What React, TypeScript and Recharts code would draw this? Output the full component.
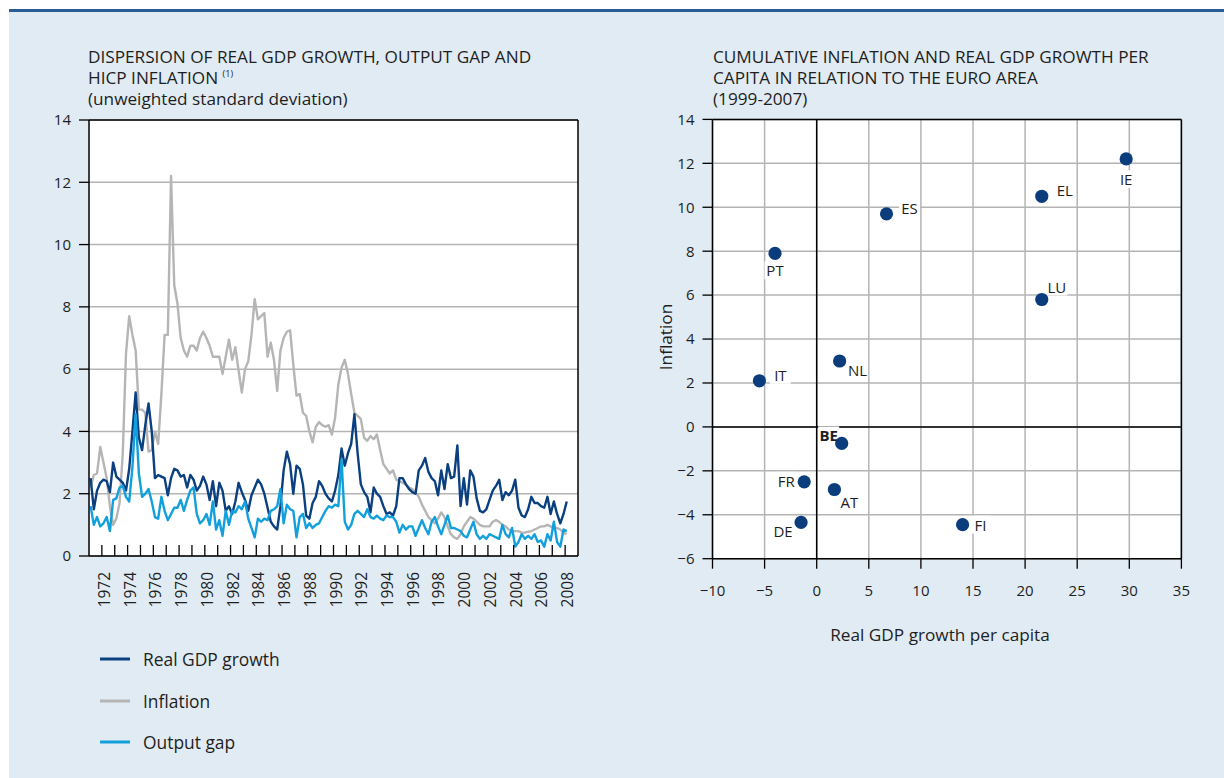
import React from 'react';
import {
  LineChart, Line, XAxis, YAxis, CartesianGrid, ReferenceLine,
  ScatterChart, Scatter,
} from 'recharts';

const FONT = '"Open Sans", "Noto Sans", sans-serif';
const TEXT = '#1e1e1e';
const GDP_COLOR = '#0a3f80';
const INFL_COLOR = '#b5b5b5';
const GAP_COLOR = '#12a0dc';
const DOT_COLOR = '#0b3d7d';
const GRID = '#b4b4b4';

// ---------- Left panel: quarterly dispersion series, 1971Q1 onwards ----------
const firstYear = 1971;

const gdpGrowth = [
  2.5, 1.5, 2.1, 2.35, 2.45, 2.4, 2.05, 3.0, 2.55, 2.45,
  2.35, 2.1, 2.8, 4.0, 5.25, 3.8, 3.4, 4.2, 4.9, 4.0,
  2.5, 2.6, 2.55, 2.5, 1.95, 2.5, 2.8, 2.75, 2.55, 2.6,
  2.2, 2.6, 2.45, 2.1, 2.25, 2.55, 2.3, 1.8, 2.4, 1.6,
  2.35, 2.1, 1.45, 1.6, 1.35, 1.75, 2.35, 2.05, 1.8, 1.45,
  1.95, 2.2, 2.45, 2.3, 2.0, 1.55, 1.1, 0.95, 0.85, 1.6,
  2.75, 3.35, 2.95, 2.0, 2.9, 2.8, 2.3, 1.3, 1.2, 1.7,
  1.9, 2.4, 2.25, 2.0, 1.85, 1.75, 2.1, 2.6, 3.45, 2.9,
  3.3, 3.6, 4.55, 3.3, 2.3, 2.05, 1.9, 1.4, 2.2, 2.0,
  1.9, 1.6, 1.35, 1.4, 1.3, 1.6, 2.5, 2.5, 2.3, 2.15,
  2.05, 2.0, 2.75, 2.9, 3.15, 2.7, 2.5, 2.4, 1.95, 2.75,
  2.15, 2.95, 2.5, 2.55, 3.55, 1.6, 2.5, 1.65, 2.75, 2.55,
  1.85, 1.45, 1.4, 1.5, 1.8, 2.1, 2.25, 2.45, 1.8, 2.05,
  1.95, 2.1, 2.45, 1.55, 1.3, 1.25, 1.5, 1.9, 1.7, 1.7,
  1.6, 1.55, 1.9, 1.35, 1.75, 1.35, 1.05, 1.35, 1.75,
];

const inflation = [
  2.2, 2.6, 2.65, 3.5, 3.0, 2.5, 1.6, 1.0, 1.2, 1.7,
  3.3, 6.5, 7.7, 7.1, 6.6, 4.7, 4.7, 4.6, 3.35, 3.4,
  4.0, 3.6, 5.2, 7.1, 7.1, 12.2, 8.7, 8.1, 7.0, 6.6,
  6.4, 6.75, 6.75, 6.6, 7.0, 7.2, 7.0, 6.75, 6.4, 6.4,
  6.4, 5.85, 6.4, 6.95, 6.3, 6.7, 5.95, 5.25, 6.0, 6.25,
  7.1, 8.25, 7.6, 7.7, 7.8, 6.4, 6.85, 6.3, 5.3, 6.6,
  7.0, 7.2, 7.25, 6.15, 5.15, 5.2, 4.6, 4.5, 4.0, 3.65,
  4.15, 4.3, 4.2, 4.15, 4.2, 3.9, 4.45, 5.5, 6.05, 6.3,
  5.85, 5.2, 4.6, 4.5, 4.4, 3.8, 3.7, 3.85, 3.75, 3.9,
  3.4, 2.95, 2.8, 2.65, 2.75, 2.45, 2.4, 2.35, 2.3, 2.2,
  2.15, 2.05, 1.9, 1.65, 1.45, 1.25, 1.15, 1.05, 1.2, 1.4,
  1.25, 0.95, 0.7, 0.6, 0.55, 0.7, 0.95, 1.1, 1.25, 1.2,
  1.1, 1.0, 0.95, 0.95, 0.95, 1.1, 1.15, 1.1, 1.0, 0.95,
  0.85, 0.8, 0.8, 0.8, 0.75, 0.75, 0.78, 0.8, 0.85, 0.9,
  0.95, 0.95, 1.0, 0.95, 0.9, 0.9, 0.85, 0.75, 0.7,
];

const outputGap = [
  1.6, 1.0, 1.25, 0.95, 1.05, 1.25, 0.8, 1.8, 1.85, 2.2,
  2.25, 1.9, 1.75, 2.85, 4.55, 2.65, 1.9, 2.0, 2.15, 1.75,
  1.25, 1.2, 1.9, 1.45, 1.15, 1.35, 1.55, 1.55, 1.8, 1.45,
  1.8, 2.1, 2.2, 1.35, 1.05, 1.15, 1.35, 1.0, 1.75, 0.85,
  1.15, 0.65, 1.45, 1.0, 1.45, 1.4, 1.6, 1.5, 1.75, 1.2,
  0.9, 0.6, 1.2, 1.1, 1.2, 1.15, 1.45, 1.5, 1.6, 2.15,
  1.05, 1.65, 1.5, 1.45, 0.6, 1.25, 1.35, 0.9, 1.05, 0.9,
  1.0, 1.05, 1.25, 1.45, 1.6, 1.55, 1.65, 1.6, 3.1, 1.1,
  0.85, 1.0, 1.35, 1.45, 1.35, 1.25, 1.5, 1.25, 1.2, 1.3,
  1.2, 1.15, 1.3, 1.25, 1.25, 1.1, 0.75, 1.0, 0.85, 0.95,
  0.95, 0.65, 0.9, 1.15, 0.9, 0.7, 1.1, 1.25, 0.95, 0.7,
  1.0, 1.3, 0.9, 0.9, 0.85, 0.8, 0.65, 0.6, 0.85, 1.1,
  0.7, 0.55, 0.65, 0.55, 0.7, 0.65, 0.6, 0.55, 1.0, 0.7,
  0.6, 0.9, 0.3, 0.45, 0.7, 0.55, 0.65, 0.55, 0.7, 0.45,
  0.5, 0.3, 0.7, 0.5, 1.1, 0.45, 0.3, 0.85, 0.8,
];

const yearTicks = [
  1972, 1973, 1974, 1975, 1976, 1977, 1978, 1979, 1980, 1981,
  1982, 1983, 1984, 1985, 1986, 1987, 1988, 1989, 1990, 1991,
  1992, 1993, 1994, 1995, 1996, 1997, 1998, 1999, 2000, 2001,
  2002, 2003, 2004, 2005, 2006, 2007, 2008,
];
const leftValueTicks = [0, 2, 4, 6, 8, 10, 12, 14];

const quarterLabels = gdpGrowth.map(
  (_, i) => `${firstYear + Math.floor(i / 4)}Q${(i % 4) + 1}`
);
const quarterTime = (label: string) => {
  const [y, q] = label.split('Q').map(Number);
  return y + (q - 1) / 4 + 0.125;
};

const lineData = quarterLabels.map((label, i) => ({
  quarter: label,
  t: quarterTime(label),
  gdp: gdpGrowth[i],
  inflation: inflation[i],
  gap: outputGap[i],
}));

// ---------- Right panel: country scatter ----------
const countries = ['PT', 'ES', 'EL', 'IE', 'LU', 'IT', 'NL', 'BE', 'FR', 'AT', 'DE', 'FI'];
const gdpPerCapita = [-4.0, 6.7, 21.6, 29.7, 21.6, -5.5, 2.2, 2.4, -1.2, 1.7, -1.5, 14.0];
const cumInflation = [7.9, 9.7, 10.5, 12.2, 5.8, 2.1, 3.0, -0.75, -2.5, -2.85, -4.35, -4.45];
const scatterXTicks = [-10, -5, 0, 5, 10, 15, 20, 25, 30, 35];
const scatterYTicks = [-6, -4, -2, 0, 2, 4, 6, 8, 10, 12, 14];

const scatterData = countries.map((name, i) => ({
  name,
  x: gdpPerCapita[i],
  y: cumInflation[i],
}));

// label placement (styling): offset of label centre from the dot, in px
const LABEL_OFFSETS: Record<string, [number, number]> = {
  PT: [0, 17], ES: [23, -6], EL: [23, -6], IE: [0, 20], LU: [15, -13],
  IT: [21, -6], NL: [18, 9], BE: [-13, -8], FR: [-18, -1], AT: [15, 12],
  DE: [-18, 9], FI: [18, 0],
};

const minus = (v: number) => String(v).replace('-', '\u2212');

const YearTick = (props: any) => {
  const { x, y, payload } = props;
  const year = payload.value as number;
  return (
    <g>
      <line x1={x} y1={y} x2={x} y2={y - 11} stroke="#000" strokeWidth={1.3} />
      {year % 2 === 0 && (
        <text
          transform={`translate(${x + 2},${y + 16}) rotate(-90)`}
          textAnchor="end"
          dominantBaseline="central"
          fontSize={15.5}
          fontFamily={FONT}
          fill={TEXT}
        >
          {year}
        </text>
      )}
    </g>
  );
};

const CountryDot = (props: any) => {
  const { cx, cy, payload } = props;
  if (cx == null || cy == null) return null;
  const [dx, dy] = LABEL_OFFSETS[payload.name] ?? [15, 0];
  const bold = payload.name === 'BE';
  const w = 21;
  const h = 18;
  return (
    <g>
      <rect x={cx + dx - w / 2} y={cy + dy - h / 2} width={w} height={h} fill="#fff" />
      <circle cx={cx} cy={cy} r={6.6} fill={DOT_COLOR} />
      <text
        x={cx + dx}
        y={cy + dy}
        textAnchor="middle"
        dominantBaseline="central"
        fontSize={15}
        fontWeight={bold ? 700 : 400}
        fontFamily={FONT}
        fill={TEXT}
      >
        {payload.name}
      </text>
    </g>
  );
};

const tickStyle = { fontSize: 15, fontFamily: FONT, fill: TEXT };

const titleStyle: React.CSSProperties = {
  position: 'absolute',
  fontFamily: FONT,
  fontSize: 17.2,
  lineHeight: '21px',
  color: TEXT,
  whiteSpace: 'nowrap',
};

const legendItems = [
  { label: 'Real GDP growth', color: GDP_COLOR, y: 659 },
  { label: 'Inflation', color: INFL_COLOR, y: 701 },
  { label: 'Output gap', color: GAP_COLOR, y: 742 },
];

export default function App() {
  return (
    <div style={{ position: 'absolute', left: 0, top: 0, width: 1224, height: 778, background: '#fff', overflow: 'hidden' }}>
      <div
        style={{
          position: 'absolute', left: 9, top: 9, width: 1215, height: 769,
          background: '#e1ebf3', borderTop: '3px solid #2a5d95', boxSizing: 'border-box',
        }}
      />

      {/* Left titles */}
      <div style={{ ...titleStyle, left: 88, top: 46 }}>
        DISPERSION OF REAL GDP GROWTH, OUTPUT GAP AND<br />
        HICP INFLATION <sup style={{ fontSize: 9, verticalAlign: 'top', position: 'relative', top: -4 }}>(1)</sup><br />
        (unweighted standard deviation)
      </div>

      {/* Right titles */}
      <div style={{ ...titleStyle, left: 713, top: 46 }}>
        CUMULATIVE INFLATION AND REAL GDP GROWTH PER<br />
        CAPITA IN RELATION TO THE EURO AREA<br />
        (1999-2007)
      </div>

      {/* Left chart */}
      <div style={{ position: 'absolute', left: 0, top: 0 }}>
        <LineChart
          width={640}
          height={640}
          data={lineData}
          margin={{ top: 120, left: 49, right: 22, bottom: 34 }}
        >
          <CartesianGrid vertical={false} stroke={GRID} strokeWidth={1.5} fill="#fff" fillOpacity={1} yAxisId="l" />
          <XAxis
            dataKey="t"
            type="number"
            domain={[1971, 2009]}
            ticks={yearTicks}
            interval={0}
            height={50}
            tickLine={false}
            tickSize={0}
            tickMargin={0}
            axisLine={{ stroke: '#000', strokeWidth: 1.5 }}
            tick={<YearTick />}
          />
          <YAxis
            yAxisId="l"
            domain={[0, 14]}
            ticks={leftValueTicks}
            width={40}
            tickSize={10}
            tickMargin={8}
            axisLine={{ stroke: '#000', strokeWidth: 1.5 }}
            tickLine={{ stroke: '#000', strokeWidth: 1.3 }}
            tick={tickStyle}
          />
          <YAxis
            yAxisId="r"
            orientation="right"
            domain={[0, 14]}
            ticks={leftValueTicks}
            width={40}
            tickSize={10}
            tickMargin={8}
            axisLine={{ stroke: '#000', strokeWidth: 1.5 }}
            tickLine={{ stroke: '#000', strokeWidth: 1.3 }}
            tick={tickStyle}
          />
          <ReferenceLine yAxisId="l" y={14} stroke="#000" strokeWidth={1.5} />
          <Line yAxisId="l" type="linear" dataKey="inflation" stroke={INFL_COLOR} strokeWidth={2.4} dot={false} isAnimationActive={false} strokeLinejoin="round" />
          <Line yAxisId="l" type="linear" dataKey="gdp" stroke={GDP_COLOR} strokeWidth={2.4} dot={false} isAnimationActive={false} strokeLinejoin="round" />
          <Line yAxisId="l" type="linear" dataKey="gap" stroke={GAP_COLOR} strokeWidth={2.4} dot={false} isAnimationActive={false} strokeLinejoin="round" />
        </LineChart>
      </div>

      {/* Legend */}
      {legendItems.map((item) => (
        <div key={item.label} style={{ position: 'absolute', left: 99, top: item.y - 12, height: 24, display: 'flex', alignItems: 'center' }}>
          <svg width={32} height={24} style={{ display: 'block' }}>
            <line x1={1} y1={12} x2={31} y2={12} stroke={item.color} strokeWidth={3} />
          </svg>
          <span style={{ marginLeft: 12, fontFamily: FONT, fontSize: 17.4, color: TEXT, whiteSpace: 'nowrap' }}>{item.label}</span>
        </div>
      ))}

      {/* Right chart */}
      <div style={{ position: 'absolute', left: 600, top: 0 }}>
        <ScatterChart
          width={624}
          height={700}
          margin={{ top: 119.4, left: 72.5, right: 42.6, bottom: 101.3 }}
        >
          <CartesianGrid stroke={GRID} strokeWidth={1.5} fill="#fff" fillOpacity={1} />
          <XAxis
            dataKey="x"
            type="number"
            domain={[-10, 35]}
            ticks={scatterXTicks}
            interval={0}
            height={40}
            tickSize={10}
            tickMargin={17}
            tickFormatter={minus}
            axisLine={{ stroke: '#000', strokeWidth: 1.5 }}
            tickLine={{ stroke: '#000', strokeWidth: 1.3 }}
            tick={tickStyle}
          />
          <YAxis
            dataKey="y"
            type="number"
            domain={[-6, 14]}
            ticks={scatterYTicks}
            interval={0}
            width={40}
            tickSize={10}
            tickMargin={8}
            tickFormatter={minus}
            axisLine={{ stroke: '#000', strokeWidth: 1.5 }}
            tickLine={{ stroke: '#000', strokeWidth: 1.3 }}
            tick={tickStyle}
          />
          <ReferenceLine y={14} stroke="#000" strokeWidth={1.5} />
          <ReferenceLine x={35} stroke="#000" strokeWidth={1.5} />
          <ReferenceLine y={0} stroke="#000" strokeWidth={1.5} />
          <ReferenceLine x={0} stroke="#000" strokeWidth={1.5} />
          <Scatter data={scatterData} shape={<CountryDot />} isAnimationActive={false} />
        </ScatterChart>
      </div>

      {/* Right axis titles */}
      <div
        style={{
          position: 'absolute', left: 665, top: 337, transform: 'translate(-50%, -50%) rotate(-90deg)',
          fontFamily: FONT, fontSize: 17.2, color: TEXT, whiteSpace: 'nowrap',
        }}
      >
        Inflation
      </div>
      <div
        style={{
          position: 'absolute', left: 940, top: 634, transform: 'translate(-50%, -50%)',
          fontFamily: FONT, fontSize: 17.2, color: TEXT, whiteSpace: 'nowrap',
        }}
      >
        Real GDP growth per capita
      </div>
    </div>
  );
}
